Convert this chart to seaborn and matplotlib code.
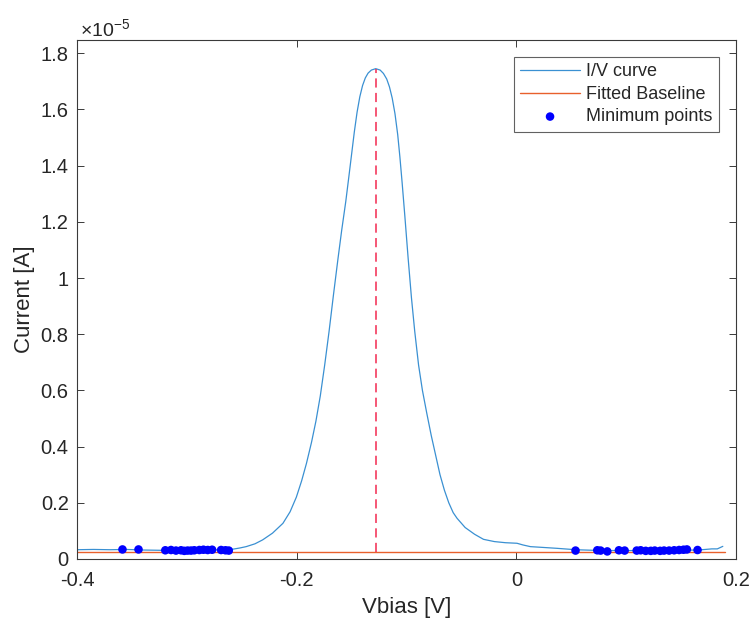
import matplotlib as mpl
mpl.use("Agg")
import matplotlib.pyplot as plt
import numpy as np
import pandas as pd
import seaborn as sns
from matplotlib.ticker import FuncFormatter, MultipleLocator

# I/V curve (current in units of 1e-5 A)
vbias = [
    -0.400, -0.385, -0.370, -0.355, -0.340, -0.325, -0.310, -0.295, -0.280,
    -0.268, -0.258, -0.252, -0.246, -0.238, -0.231, -0.222, -0.2125, -0.206,
    -0.2003, -0.1955, -0.1911, -0.1865, -0.1825, -0.1785, -0.1745, -0.1705,
    -0.1665, -0.1625, -0.159, -0.1553, -0.1525, -0.150, -0.1475, -0.145,
    -0.1425, -0.140, -0.1375, -0.135, -0.132, -0.128, -0.124, -0.121,
    -0.118, -0.1155, -0.113, -0.1105, -0.108, -0.106, -0.104, -0.1015,
    -0.0985, -0.0955, -0.0925, -0.089, -0.0855, -0.0816, -0.0775, -0.0735,
    -0.0695, -0.0655, -0.0615, -0.0575, -0.054, -0.0466, -0.038, -0.0299,
    -0.020, -0.010, 0.0006, 0.006, 0.0128, 0.025, 0.037, 0.054,
    0.070, 0.090, 0.110, 0.130, 0.150, 0.165, 0.172, 0.178, 0.183, 0.188,
]
current_e5 = [
    0.033, 0.034, 0.033, 0.034, 0.032, 0.031, 0.030, 0.031, 0.032,
    0.033, 0.035, 0.039, 0.044, 0.054, 0.068, 0.092, 0.127, 0.168,
    0.220, 0.278, 0.340, 0.415, 0.490, 0.580, 0.690, 0.810,
    0.940, 1.065, 1.170, 1.272, 1.360, 1.440, 1.520, 1.590,
    1.645, 1.685, 1.712, 1.729, 1.740, 1.745, 1.740, 1.728,
    1.708, 1.680, 1.640, 1.585, 1.510, 1.430, 1.340, 1.220,
    1.070, 0.930, 0.810, 0.690, 0.600, 0.520, 0.440, 0.370,
    0.300, 0.245, 0.200, 0.165, 0.145, 0.112, 0.088, 0.070,
    0.062, 0.058, 0.056, 0.050, 0.044, 0.041, 0.038, 0.033,
    0.031, 0.030, 0.030, 0.030, 0.031, 0.032, 0.034, 0.036, 0.036, 0.045,
]

# minimum points used for the baseline fit
min_v = [
    -0.3586, -0.344, -0.3196, -0.3144, -0.3099, -0.3053, -0.3023, -0.2993,
    -0.2962, -0.2932, -0.2886, -0.2849, -0.281, -0.277, -0.2688, -0.2648,
    -0.2618,
    0.0539, 0.0737, 0.0767, 0.0828, 0.0934, 0.0986, 0.1096, 0.1132, 0.1178,
    0.1224, 0.126, 0.1309, 0.1345, 0.1391, 0.1437, 0.1482, 0.1522, 0.1553,
    0.165,
]
min_i_e5 = [
    0.034, 0.034, 0.031, 0.032, 0.030, 0.031, 0.029, 0.030, 0.030, 0.031,
    0.032, 0.033, 0.032, 0.033, 0.032, 0.031, 0.030,
    0.030, 0.031, 0.030, 0.027, 0.031, 0.030, 0.030, 0.031, 0.029,
    0.029, 0.030, 0.029, 0.030, 0.030, 0.031, 0.032, 0.033, 0.034,
    0.032,
]

# fitted baseline and peak position
baseline_v = [-0.400, 0.190]
baseline_e5 = [0.026, 0.026]
peak_v = -0.128
peak_e5 = 1.745

SCALE = 1e-5
curve = pd.DataFrame({"V": vbias, "I": np.array(current_e5) * SCALE})
mins = pd.DataFrame({"V": min_v, "I": np.array(min_i_e5) * SCALE})
base = pd.DataFrame({"V": baseline_v, "I": np.array(baseline_e5) * SCALE})

sns.set_style("ticks")
plt.rcParams["font.family"] = ["Liberation Sans", "DejaVu Sans"]
plt.rcParams["mathtext.fontset"] = "custom"
plt.rcParams["mathtext.rm"] = "Liberation Sans"
plt.rcParams["mathtext.it"] = "Liberation Sans:italic"

fig = plt.figure(figsize=(7.5, 6.22), dpi=100)
ax = fig.add_axes([77 / 750, 1 - 559 / 622, 659 / 750, 519 / 622])

sns.lineplot(data=curve, x="V", y="I", sort=False, estimator=None,
             color="#3a90d2", lw=0.9, label="I/V curve", ax=ax)
sns.lineplot(data=base, x="V", y="I", sort=False, estimator=None,
             color="#e8602c", lw=1.0, label="Fitted Baseline", ax=ax)
sns.scatterplot(data=mins, x="V", y="I", color="#0000ff", s=38,
                edgecolor="none", label="Minimum points", ax=ax, zorder=4)
ax.plot([peak_v, peak_v], [baseline_e5[0] * SCALE, peak_e5 * SCALE],
        ls=(0, (6, 3.5)), color="#f2284f", lw=1.1, zorder=3)

ax.set_xlim(-0.4, 0.2)
ax.set_ylim(0, 1.847e-5)
ax.xaxis.set_major_locator(MultipleLocator(0.2))
ax.yaxis.set_major_locator(MultipleLocator(0.2e-5))
ax.xaxis.set_major_formatter(FuncFormatter(lambda v, p: f"{round(v, 3) + 0:g}"))
ax.yaxis.set_major_formatter(FuncFormatter(lambda v, p: f"{round(v / SCALE, 3) + 0:g}"))

for s in ax.spines.values():
    s.set_color("#3a3a3a")
    s.set_linewidth(0.8)
ax.tick_params(direction="in", top=True, right=True, length=5, width=0.7,
               color="#3a3a3a", labelsize=14.5, labelcolor="#262626")
ax.tick_params(axis="x", pad=9)
ax.tick_params(axis="y", pad=6)

ax.set_xlabel("Vbias [V]", fontsize=16, color="#262626", labelpad=5)
ax.set_ylabel("Current [A]", fontsize=16, color="#262626", labelpad=4)
fig.text(80 / 750, 1 - 36 / 622, r"$\times10^{-5}$", fontsize=14,
         color="#262626", ha="left", va="baseline")

leg = ax.legend(loc="upper right", fontsize=13, frameon=True, fancybox=False,
                edgecolor="#3a3a3a", handlelength=3.3, handletextpad=0.35,
                borderaxespad=0.95, labelspacing=0.3, borderpad=0.35,
                markerscale=1.0)
leg.get_frame().set_linewidth(0.8)

fig.savefig("out.png", dpi=100)
